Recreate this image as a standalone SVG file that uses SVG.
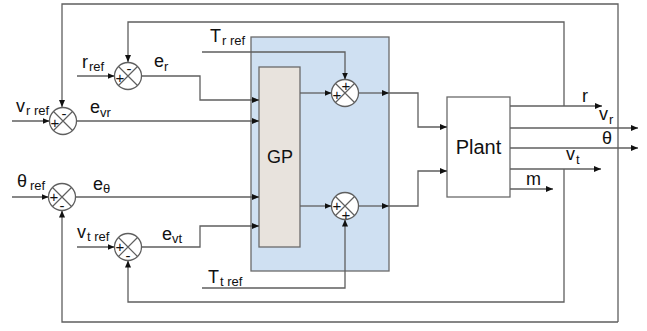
<svg xmlns="http://www.w3.org/2000/svg" width="647" height="331" viewBox="0 0 647 331">
<style>
.ln{fill:none;stroke:#5f5f5f;stroke-width:1.3}
.sum circle{fill:#fff;stroke:#5f5f5f;stroke-width:1.3}
.sum path{fill:none;stroke:#5f5f5f;stroke-width:1.2}
.sg{font-family:"Liberation Sans",Arial,sans-serif;font-size:15px;fill:#111;text-anchor:middle;dominant-baseline:central}
.lb{font-family:"Liberation Sans",Arial,sans-serif;font-size:18px;fill:#111}
.sb{font-size:13px}
.box{stroke:#6a6a6a;stroke-width:1.3}
</style>
<defs>
<marker id="ar" markerUnits="userSpaceOnUse" markerWidth="8" markerHeight="6" refX="7" refY="3" orient="auto">
<path d="M0,0 L7,3 L0,6 z" fill="#111"/>
</marker>
</defs>
<g id="controller">
<rect class="box" x="251" y="37" width="138" height="234" fill="#cfe0f2"/>
</g>
<g id="gp">
<rect class="box" x="259" y="67" width="41" height="180" fill="#e8e3dd"/>
<text class="lb" x="280" y="163" text-anchor="middle">GP</text>
</g>
<g id="plant">
<rect class="box" x="447" y="97" width="63" height="100" fill="#fff"/>
<text class="lb" x="478.5" y="154" text-anchor="middle" style="font-size:20px">Plant</text>
</g>
<g id="connectors">
<path class="ln" d="M618,322 V4 H62 V107" marker-end="url(#ar)"/>
<path class="ln" d="M618,322 H62 V210.5" marker-end="url(#ar)"/>
<path class="ln" d="M564,106 V22 H128 V62" marker-end="url(#ar)"/>
<path class="ln" d="M564,169 V302 H128 V260.5" marker-end="url(#ar)"/>
<path class="ln" d="M77,76 H114.5" marker-end="url(#ar)"/>
<path class="ln" d="M12,121 H49.5" marker-end="url(#ar)"/>
<path class="ln" d="M12,197 H48.5" marker-end="url(#ar)"/>
<path class="ln" d="M77,247 H114.5" marker-end="url(#ar)"/>
<path class="ln" d="M141.5,76 H200 V100 H259" marker-end="url(#ar)"/>
<path class="ln" d="M76.5,121 H259" marker-end="url(#ar)"/>
<path class="ln" d="M75.5,197 H259" marker-end="url(#ar)"/>
<path class="ln" d="M141.5,247 H200 V226 H259" marker-end="url(#ar)"/>
<path class="ln" d="M202,52 H345 V79.5" marker-end="url(#ar)"/>
<path class="ln" d="M202,288 H345 V219.5" marker-end="url(#ar)"/>
<path class="ln" d="M300,93 H331.5" marker-end="url(#ar)"/>
<path class="ln" d="M300,206 H331.5" marker-end="url(#ar)"/>
<path class="ln" d="M358.5,93 H389" marker-end="url(#ar)"/>
<path class="ln" d="M389,93 H418 V127 H447" marker-end="url(#ar)"/>
<path class="ln" d="M358.5,206 H389" marker-end="url(#ar)"/>
<path class="ln" d="M389,206 H418 V171 H447" marker-end="url(#ar)"/>
<path class="ln" d="M510,106 H602" marker-end="url(#ar)"/>
<path class="ln" d="M510,128 H638" marker-end="url(#ar)"/>
<path class="ln" d="M510,148 H638" marker-end="url(#ar)"/>
<path class="ln" d="M510,169 H601" marker-end="url(#ar)"/>
<path class="ln" d="M510,189 H553" marker-end="url(#ar)"/>
</g>
<g id="sum_r" class="sum">
<circle cx="128" cy="76" r="13.5"/>
<path d="M118.5,66.5 L137.5,85.5 M137.5,66.5 L118.5,85.5"/>
<text class="sg" x="120" y="77">+</text>
<text class="sg" x="129" y="68">-</text>
</g>
<g id="sum_vr" class="sum">
<circle cx="63" cy="121" r="13.5"/>
<path d="M53.5,111.5 L72.5,130.5 M72.5,111.5 L53.5,130.5"/>
<text class="sg" x="55" y="122">+</text>
<text class="sg" x="64" y="113">-</text>
</g>
<g id="sum_theta" class="sum">
<circle cx="62" cy="197" r="13.5"/>
<path d="M52.5,187.5 L71.5,206.5 M71.5,187.5 L52.5,206.5"/>
<text class="sg" x="54" y="196">+</text>
<text class="sg" x="62" y="205">-</text>
</g>
<g id="sum_vt" class="sum">
<circle cx="128" cy="247" r="13.5"/>
<path d="M118.5,237.5 L137.5,256.5 M137.5,237.5 L118.5,256.5"/>
<text class="sg" x="120" y="246">+</text>
<text class="sg" x="128" y="255">-</text>
</g>
<g id="sum_top" class="sum">
<circle cx="345" cy="93" r="13.5"/>
<path d="M335.5,83.5 L354.5,102.5 M354.5,83.5 L335.5,102.5"/>
<text class="sg" x="337" y="94">+</text>
<text class="sg" x="346" y="85">+</text>
</g>
<g id="sum_bottom" class="sum">
<circle cx="345" cy="206" r="13.5"/>
<path d="M335.5,196.5 L354.5,215.5 M354.5,196.5 L335.5,215.5"/>
<text class="sg" x="337" y="205">+</text>
<text class="sg" x="346" y="214">+</text>
</g>
<g id="labels">
<text class="lb" x="82" y="68">r<tspan class="sb" dx="1" dy="3">ref</tspan></text>
<text class="lb" x="154" y="67">e<tspan class="sb" dx="0" dy="4">r</tspan></text>
<text class="lb" x="16" y="112">v<tspan class="sb" dx="1" dy="3">r ref</tspan></text>
<text class="lb" x="90" y="113">e<tspan class="sb" dx="0" dy="4">vr</tspan></text>
<text class="lb" x="210" y="42">T<tspan class="sb" dx="1" dy="3">r ref</tspan></text>
<text class="lb" x="17" y="187">θ<tspan class="sb" dx="3" dy="3">ref</tspan></text>
<text class="lb" x="93" y="190">e<tspan class="sb" dx="0" dy="3">θ</tspan></text>
<text class="lb" x="77" y="238">v<tspan class="sb" dx="1" dy="3">t ref</tspan></text>
<text class="lb" x="162" y="240">e<tspan class="sb" dx="0" dy="3">vt</tspan></text>
<text class="lb" x="208" y="283">T<tspan class="sb" dx="1" dy="3">t ref</tspan></text>
<text class="lb" x="582" y="102">r</text>
<text class="lb" x="599" y="120">v<tspan class="sb" dx="1" dy="4">r</tspan></text>
<text class="lb" x="602" y="144">θ</text>
<text class="lb" x="566" y="160">v<tspan class="sb" dx="1" dy="4">t</tspan></text>
<text class="lb" x="526" y="185">m</text>
</g>
</svg>
